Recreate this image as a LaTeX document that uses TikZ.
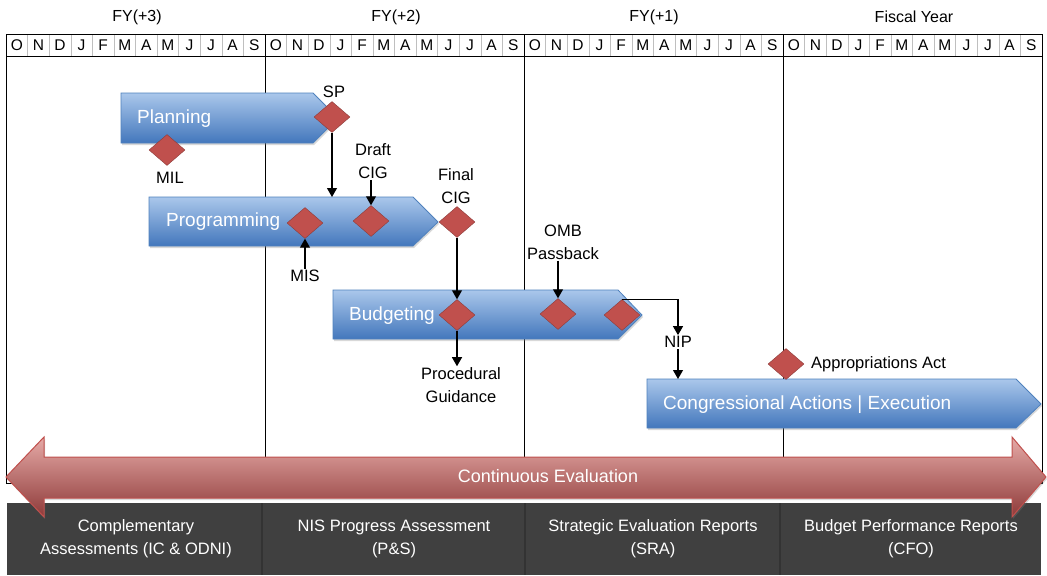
\documentclass[tikz,border=0pt]{standalone}
\usepackage{fontspec}
\setmainfont{Liberation Sans}
\usetikzlibrary{shapes.geometric, arrows.meta, shadows}
\definecolor{bartop}{HTML}{AAC7EB}
\definecolor{barbot}{HTML}{4377BC}
\definecolor{barline}{HTML}{4F81BD}
\definecolor{gemfill}{HTML}{C0504D}
\definecolor{gemline}{HTML}{8C3B39}
\definecolor{evaltop}{HTML}{E6AAA7}
\definecolor{evalbot}{HTML}{8E3A39}
\definecolor{footfill}{HTML}{404040}

\begin{document}
\begin{tikzpicture}[x=1pt, y=-1pt,
  bar/.style={draw=barline, top color=bartop, bottom color=barbot, line width=0.8pt,
    drop shadow={shadow xshift=1pt, shadow yshift=-2pt, opacity=0.3}},
  bartext/.style={anchor=base west, inner sep=0pt, text=white, font=\fontsize{19}{19}\selectfont},
  gem/.style={diamond, draw=gemline, fill=gemfill, minimum width=36pt, minimum height=31pt, inner sep=0pt},
  tag/.style={font=\fontsize{16.5}{23}\selectfont, align=center, inner sep=1pt},
  flow/.style={-{Triangle[length=9pt, width=10pt]}, line width=1.1pt},
  month/.style={font=\fontsize{15.5}{15.5}\selectfont},
  year/.style={font=\fontsize{16}{16}\selectfont},
  foot/.style={text=white, align=center, font=\fontsize{16.5}{23}\selectfont}]
\fill[white] (0,0) rectangle (1047,575);
\node[year] (fy3) at (137,17) {FY(+3)};
\node[year] (fy2) at (396,17) {FY(+2)};
\node[year] (fy1) at (654,17) {FY(+1)};
\node[year] (fy0) at (914,17) {Fiscal Year};
\foreach \k in {1,...,47} \draw[black!25] ({6+259/12*\k},34) -- ({6+259/12*\k},56);
\foreach \yr in {0,1,2,3} {
  \foreach \m [count=\i] in {O,N,D,J,F,M,A,M,J,J,A,S}
    \node[month] (m\yr\i) at ({6+259*\yr+259/12*(\i-0.5)},45) {\m};
}
\draw[line width=0.8pt] (6,34) rectangle (1042,483);
\draw[line width=0.8pt] (6,56) -- (1042,56);
\foreach \k in {1,2,3} \draw[line width=0.8pt] ({6+259*\k},34) -- ({6+259*\k},483);
\path[bar] (121,93) -- (313,93) -- (338,118) -- (313,143) -- (121,143) -- cycle;
\path[bar] (149,197) -- (413,197) -- (438,222) -- (413,246) -- (149,246) -- cycle;
\path[bar] (333,290) -- (618,290) -- (642,315) -- (618,339) -- (333,339) -- cycle;
\path[bar] (647,379) -- (1016,379) -- (1041,404) -- (1016,428) -- (647,428) -- cycle;
\node[bartext] (planning) at (137,123) {Planning};
\node[bartext] (programming) at (166,226) {Programming};
\node[bartext] (budgeting) at (349,320) {Budgeting};
\node[bartext] (congress) at (663,409) {Congressional Actions | Execution};
\node[gem] (mil) at (167,150) {};
\node[gem] (sp) at (332,117) {};
\node[gem] (mis) at (305,223) {};
\node[gem] (dcig) at (371,221) {};
\node[gem] (fcig) at (457,222) {};
\node[gem] (pg) at (457,315) {};
\node[gem] (omb) at (558,314) {};
\node[gem] (nip) at (622,315) {};
\node[gem] (appr) at (786,364) {};
\node[tag] (spl) at (334,92) {SP};
\node[tag] (mill) at (170,178) {MIL};
\node[tag] (misl) at (305,276) {MIS};
\node[tag] (dcigl) at (373,161) {Draft\\CIG};
\node[tag] (fcigl) at (456,186) {Final\\CIG};
\node[tag] (ombl) at (563,242) {OMB\\Passback};
\node[tag] (pgl) at (461,385) {Procedural\\Guidance};
\node[tag] (nipl) at (678,342) {NIP};
\node[tag, anchor=west] (apprl) at (810,364) {Appropriations Act};
\coordinate (progtop) at (333,197);
\coordinate (congtop) at (678,379);
\draw[flow] (sp.south) -- (sp.south |- progtop);
\draw[flow] (dcig.north |- dcigl.south) -- (dcig.north);
\draw[flow] (mis.south |- misl.north) -- (mis.south);
\draw[flow] (fcig.south) -- (pg.north);
\draw[flow] (pg.south) -- (pg.south |- pgl.north);
\draw[flow] (omb.north |- ombl.south) -- (omb.north);
\draw[flow] (nip.north) -| (nipl.north);
\draw[flow] (nipl.south) -- (nipl.south |- congtop);
\fill[footfill] (7,503) rectangle (1041,575);
\foreach \x in {262,525,780} \draw[black!80, line width=1.2pt] (\x,503) -- (\x,575);
\node[foot] (ft1) at (136,539) {Complementary\\Assessments (IC \& ODNI)};
\node[foot] (ft2) at (394,539) {NIS Progress Assessment\\(P\&S)};
\node[foot] (ft3) at (653,539) {Strategic Evaluation Reports\\(SRA)};
\node[foot] (ft4) at (911,539) {Budget Performance Reports\\(CFO)};
\path[draw=gemfill, top color=evaltop, bottom color=evalbot, line width=1pt,
  drop shadow={shadow xshift=1pt, shadow yshift=-2pt, opacity=0.3}]
  (6,477) -- (44,437) -- (44,457) -- (1012,457) -- (1012,437) -- (1046,477)
  -- (1012,517) -- (1012,498) -- (44,498) -- (44,517) -- cycle;
\node[text=white, font=\fontsize{18}{18}\selectfont] (cont) at (548,476) {Continuous Evaluation};
\end{tikzpicture}
\end{document}
